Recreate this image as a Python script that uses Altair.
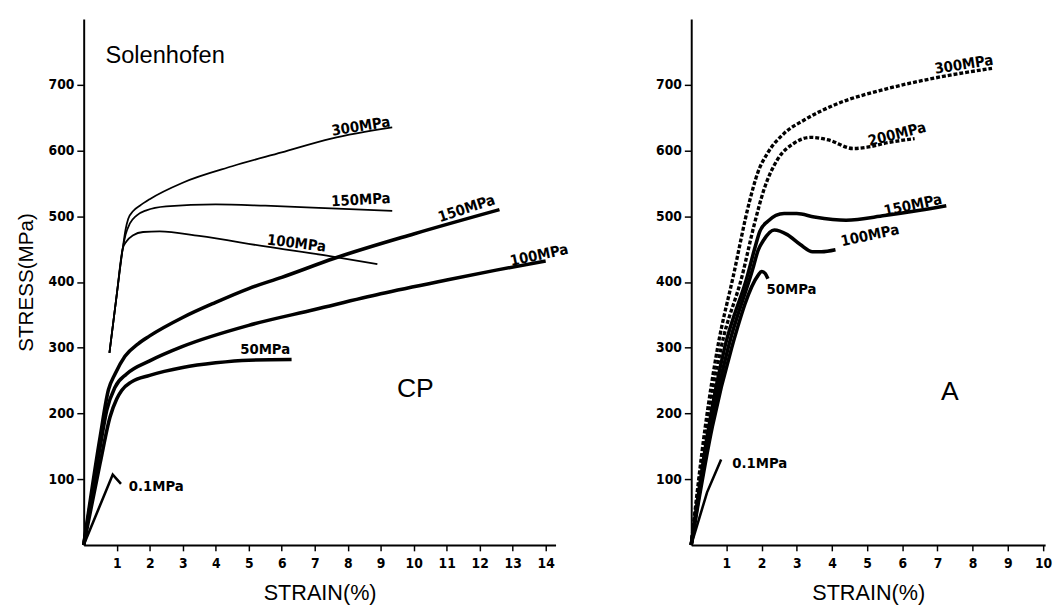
import altair as alt
import pandas as pd

# ---------------- Left panel (CP) ----------------
CP_01_X = [0, 0.88, 1.13]
CP_01_Y = [0, 107, 93]
CP_50_X = [0, 0.5, 0.8, 1.0, 1.15, 1.45, 2.0, 3.0, 4.0, 5.0, 6.3]
CP_50_Y = [0, 125, 195, 222, 235, 248, 258, 270, 277, 281, 282]
CP_100_X = [0, 0.5, 0.7, 0.95, 1.3, 2.0, 3.0, 5.0, 7.0, 9.0, 11.0, 12.5, 14.0]
CP_100_Y = [0, 150, 205, 240, 260, 280, 302, 334, 358, 382, 403, 418, 432]
CP_150_X = [0, 0.5, 0.75, 0.95, 1.25, 1.65, 2.0, 3.0, 4.0, 5.0, 6.0, 7.6, 10.0, 12.6]
CP_150_Y = [0, 165, 236, 260, 287, 306, 318, 346, 369, 390, 407, 436, 473, 510]
CP_300T_X = [0.78, 1.0, 1.18, 1.27, 1.35, 1.5, 1.7, 2.0, 3.0, 4.5, 6.0, 7.5, 9.35]
CP_300T_Y = [292, 380, 450, 480, 496, 508, 516, 526, 551, 576, 597, 618, 635]
CP_150T_X = [0.78, 1.0, 1.18, 1.27, 1.4, 1.6, 1.9, 2.5, 4.0, 5.5, 7.5, 9.35]
CP_150T_Y = [292, 380, 450, 472, 489, 501, 509, 515, 518, 516, 512, 508]
CP_100T_X = [0.78, 1.0, 1.18, 1.3, 1.5, 1.8, 2.3, 3.5, 5.5, 7.5, 8.9]
CP_100T_Y = [292, 380, 450, 462, 471, 476, 477, 470, 454, 439, 427]

CP_LABELS = ["0.1MPa", "50MPa", "100MPa", "150MPa", "300MPa", "150MPa", "100MPa"]
CP_LABEL_X = [2.2, 5.5, 6.45, 8.4, 8.4, 11.6, 13.8]
CP_LABEL_Y = [90, 298, 459, 525, 637, 512, 441]
CP_LABEL_ANGLE = [0, 0, 7, 357, 351, 342, 348]

# ---------------- Right panel (A) ----------------
A_01_X = [0, 0.45, 0.85]
A_01_Y = [0, 80, 130]
A_50_X = [0, 0.6, 1.15, 1.9, 2.0, 2.1, 2.18]
A_50_Y = [0, 180, 300, 410, 416, 413, 405]
A_100_X = [0, 0.55, 1.05, 1.75, 1.9, 2.05, 2.36, 2.73, 3.1, 3.45, 3.7, 4.1]
A_100_Y = [0, 180, 300, 420, 448, 463, 479, 472, 457, 446, 446, 449]
A_150_X = [0, 0.5, 0.95, 1.6, 1.8, 1.95, 2.17, 2.64, 3.0, 3.5, 4.4, 5.5, 6.5, 7.25]
A_150_Y = [0, 180, 300, 410, 450, 477, 492, 504, 504, 499, 494, 501, 509, 516]
A_200_X = [0, 0.45, 0.85, 1.45, 1.79, 2.07, 2.45, 2.92, 3.4, 3.9, 4.6, 5.0, 5.6, 6.35]
A_200_Y = [0, 180, 300, 410, 487, 541, 586, 611, 620, 616, 603, 605, 612, 618]
A_300_X = [0, 0.4, 0.75, 1.2, 1.65, 1.89, 2.17, 2.64, 3.2, 4.1, 5.5, 6.9, 8.55]
A_300_Y = [0, 180, 300, 410, 521, 566, 596, 626, 646, 670, 693, 710, 725]

A_LABELS = ["300MPa", "200MPa", "150MPa", "100MPa", "50MPa", "0.1MPa"]
A_LABEL_X = [7.75, 5.85, 6.3, 5.08, 2.85, 1.95]
A_LABEL_Y = [731, 625, 517, 471, 389, 124]
A_LABEL_ANGLE = [351, 346, 348, 348, 0, 0]

CP_X_TICKS = list(range(1, 15))
A_X_TICKS = list(range(1, 11))
Y_TICKS = [100, 200, 300, 400, 500, 600, 700]

BIG_CP_TEXT = ["Solenhofen", "CP"]
BIG_CP_X = [0.66, 10.05]
BIG_CP_Y = [744, 237]
BIG_A_TEXT = ["A"]
BIG_A_X = [7.35]
BIG_A_Y = [232]

LABEL_FONT = "DejaVu Sans Condensed"
TITLE_FONT = "Liberation Sans"


def series(name, style, xs, ys):
    return pd.DataFrame({"series": name, "style": style, "x": xs, "y": ys,
                         "i": list(range(len(xs)))})


cp_lines = pd.concat([
    series("0.1", "sharp", CP_01_X, CP_01_Y),
    series("50", "thick", CP_50_X, CP_50_Y),
    series("100", "thick", CP_100_X, CP_100_Y),
    series("150", "thick", CP_150_X, CP_150_Y),
    series("300t", "thin", CP_300T_X, CP_300T_Y),
    series("150t", "thin", CP_150T_X, CP_150T_Y),
    series("100t", "thin", CP_100T_X, CP_100T_Y),
])
a_lines = pd.concat([
    series("0.1", "sharp", A_01_X, A_01_Y),
    series("50", "thick", A_50_X, A_50_Y),
    series("100", "thick", A_100_X, A_100_Y),
    series("150", "thick", A_150_X, A_150_Y),
    series("200", "dash", A_200_X, A_200_Y),
    series("300", "dash", A_300_X, A_300_Y),
])

cp_labels = pd.DataFrame({"text": CP_LABELS, "x": CP_LABEL_X, "y": CP_LABEL_Y,
                          "angle": CP_LABEL_ANGLE})
a_labels = pd.DataFrame({"text": A_LABELS, "x": A_LABEL_X, "y": A_LABEL_Y,
                         "angle": A_LABEL_ANGLE})


def panel(lines, labels, xmax, width, xticks, ytitle, bigs):
    xs = alt.Scale(domain=[0, xmax], nice=False, zero=False)
    ys = alt.Scale(domain=[0, 800], nice=False, zero=False)
    xaxis = alt.Axis(values=xticks, tickSize=6, tickWidth=1.5, tickColor="black",
                     domainColor="black", domainWidth=2, grid=False,
                     labelFont=LABEL_FONT, labelFontSize=14, labelFontWeight="bold",
                     labelColor="black", labelPadding=6, labelOverlap=False,
                     labelFlush=False, labelBound=False,
                     title="STRAIN(%)", titleFont=TITLE_FONT, titleFontSize=22,
                     titleFontWeight="normal", titleColor="black", titlePadding=13)
    yaxis = alt.Axis(values=Y_TICKS, tickSize=7, tickWidth=1.5, tickColor="black",
                     domainColor="black", domainWidth=2, grid=False,
                     labelFont=LABEL_FONT, labelFontSize=14, labelFontWeight="bold",
                     labelColor="black", labelPadding=3, labelOverlap=False,
                     title=ytitle, titleFont=TITLE_FONT, titleFontSize=21,
                     titleFontWeight="normal", titleColor="black", titlePadding=12)
    X = alt.X("x:Q", scale=xs, axis=xaxis)
    Y = alt.Y("y:Q", scale=ys, axis=yaxis)

    base = alt.Chart(lines)
    enc = dict(x=X, y=Y, detail="series:N", order="i:Q")
    thick = base.transform_filter(alt.datum.style == "thick").mark_line(
        color="black", strokeWidth=3.6, interpolate="monotone").encode(**enc)
    thin = base.transform_filter(alt.datum.style == "thin").mark_line(
        color="black", strokeWidth=1.8, interpolate="monotone").encode(**enc)
    dash = base.transform_filter(alt.datum.style == "dash").mark_line(
        color="black", strokeWidth=3.4, strokeDash=[4, 2],
        interpolate="monotone").encode(**enc)
    sharp = base.transform_filter(alt.datum.style == "sharp").mark_line(
        color="black", strokeWidth=2.6, interpolate="linear").encode(**enc)

    lab = alt.Chart(labels).mark_text(
        font=LABEL_FONT, fontSize=15, fontWeight="bold", color="black",
        align="center", baseline="middle").encode(
        x=X, y=Y, text="text:N", angle=alt.Angle("angle:Q", scale=None))

    extra = []
    for (t, bx, by, s, a) in bigs:
        extra.append(alt.Chart(pd.DataFrame({"t": t, "x": bx, "y": by})).mark_text(
            font=TITLE_FONT, fontSize=s, color="black", align=a,
            baseline="middle").encode(x=X, y=Y, text="t:N"))
    return alt.layer(thick, thin, dash, sharp, lab, *extra).properties(
        width=width, height=535)


left = panel(cp_lines, cp_labels, 14.3, 480, CP_X_TICKS, "STRESS(MPa)", [
    (BIG_CP_TEXT[:1], BIG_CP_X[:1], BIG_CP_Y[:1], 24, "left"),
    (BIG_CP_TEXT[1:], BIG_CP_X[1:], BIG_CP_Y[1:], 27, "center"),
])
right = panel(a_lines, a_labels, 10.06, 360, A_X_TICKS, "", [
    (BIG_A_TEXT, BIG_A_X, BIG_A_Y, 27, "center"),
])

chart = alt.hconcat(left, right, spacing=86).properties(
    padding={"left": 7, "top": 5, "right": 0, "bottom": 0},
    background="white",
).configure_view(stroke="transparent").configure_axis(labelOverlap=False)

chart.save("out.html", embed_options={"renderer": "svg", "actions": False})
